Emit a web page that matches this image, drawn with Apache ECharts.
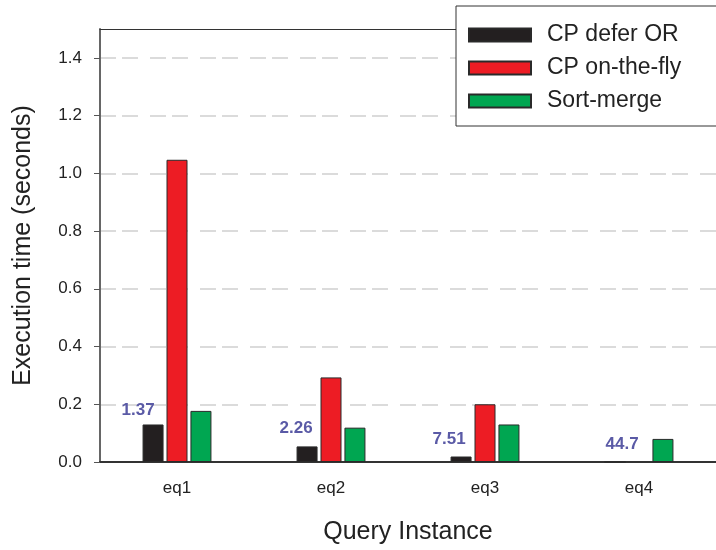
<!DOCTYPE html>
<html>
<head>
<meta charset="utf-8">
<script src="https://cdn.jsdelivr.net/npm/echarts@6/dist/echarts.min.js"></script>
<style>
  html, body { margin: 0; padding: 0; background: #fff; }
  #chart { width: 716px; height: 550px; }
</style>
</head>
<body>
<div id="chart"></div>
<script>
// Query instances and execution times (seconds)
const categories = ['eq1', 'eq2', 'eq3', 'eq4'];
const deferOr = [0.130, 0.054, 0.019, 0];
const onTheFly = [1.047, 0.293, 0.200, null];
const sortMerge = [0.177, 0.119, 0.130, 0.080];
// Annotations written above the CP defer OR bars
const deferNotes = ['1.37', '2.26', '7.51', '44.7'];
const yTicks = { min: 0, max: 1.5, interval: 0.2 };

// Small per-label nudges for the annotations (px)
const noteNudge = [[-15, 3], [-11, -1], [-12, 0], [7, 0]];

const FONT = '"Liberation Sans", Arial, Helvetica, sans-serif';
const BAR_BORDER = { borderColor: '#2a2a2a', borderWidth: 1 };

const chart = echarts.init(document.getElementById('chart'), null, { renderer: 'canvas' });

chart.setOption({
  animation: false,
  backgroundColor: '#fff',
  textStyle: { fontFamily: FONT },
  grid: { left: 100, right: -4, top: 29, bottom: 88 },
  legend: {
    orient: 'vertical',
    left: 456, top: 6,
    icon: 'rect',
    itemWidth: 62, itemHeight: 13, itemGap: 9,
    padding: [17, 60, 13, 12],
    borderColor: '#333', borderWidth: 1, borderRadius: 0,
    backgroundColor: '#fff',
    textStyle: { fontFamily: FONT, fontSize: 23, lineHeight: 24, color: '#222', padding: [0, 0, 0, 11] },
    data: ['CP defer OR', 'CP on-the-fly', 'Sort-merge']
  },
  xAxis: [
    {
      type: 'category',
      data: categories,
      boundaryGap: true,
      name: 'Query Instance',
      nameLocation: 'middle',
      nameGap: 58,
      nameTextStyle: { fontFamily: FONT, fontSize: 25, color: '#222' },
      axisLine: { lineStyle: { color: '#333', width: 2 } },
      axisTick: { alignWithLabel: true, length: 6, lineStyle: { color: '#555', width: 1 } },
      axisLabel: { fontFamily: FONT, fontSize: 17, color: '#222', margin: 18 },
      splitLine: { show: false }
    },
    {
      // plain frame line along the top of the plot
      type: 'category',
      data: categories,
      position: 'top',
      z: 3,
      axisLine: { lineStyle: { color: '#333', width: 1 } },
      axisTick: { show: false },
      axisLabel: { show: false },
      splitLine: { show: false }
    }
  ],
  yAxis: {
    type: 'value',
    min: yTicks.min, max: yTicks.max, interval: yTicks.interval,
    name: 'Execution time (seconds)',
    nameLocation: 'middle',
    nameGap: 64,
    nameTextStyle: { fontFamily: FONT, fontSize: 25, color: '#222' },
    axisLine: { show: true, lineStyle: { color: '#666', width: 2 } },
    axisTick: { show: true, length: 6, lineStyle: { color: '#555', width: 1 } },
    axisLabel: {
      fontFamily: FONT, fontSize: 17, color: '#222', margin: 18,
      showMaxLabel: false,
      formatter: v => v.toFixed(1)
    },
    splitLine: {
      show: true,
      showMaxLine: false,
      lineStyle: { color: '#cfcfcf', width: 1.5, type: [16, 6, 16, 12] }
    }
  },
  series: [
    {
      name: 'CP defer OR',
      type: 'bar',
      barWidth: 21,
      barGap: '14%',
      itemStyle: Object.assign({ color: '#231f20' }, BAR_BORDER),
      data: deferOr.map((v, i) => ({ value: v, label: { offset: noteNudge[i] } })),
      label: {
        show: true,
        position: 'top',
        distance: 9,
        fontFamily: FONT,
        fontSize: 17,
        fontWeight: 'bold',
        color: '#5a5aa6',
        formatter: p => deferNotes[p.dataIndex]
      }
    },
    {
      name: 'CP on-the-fly',
      type: 'bar',
      barWidth: 21,
      barGap: '14%',
      itemStyle: Object.assign({ color: '#ed1c24' }, BAR_BORDER),
      data: onTheFly
    },
    {
      name: 'Sort-merge',
      type: 'bar',
      barWidth: 21,
      barGap: '14%',
      itemStyle: Object.assign({ color: '#00a651' }, BAR_BORDER),
      data: sortMerge
    }
  ]
});
</script>
</body>
</html>
